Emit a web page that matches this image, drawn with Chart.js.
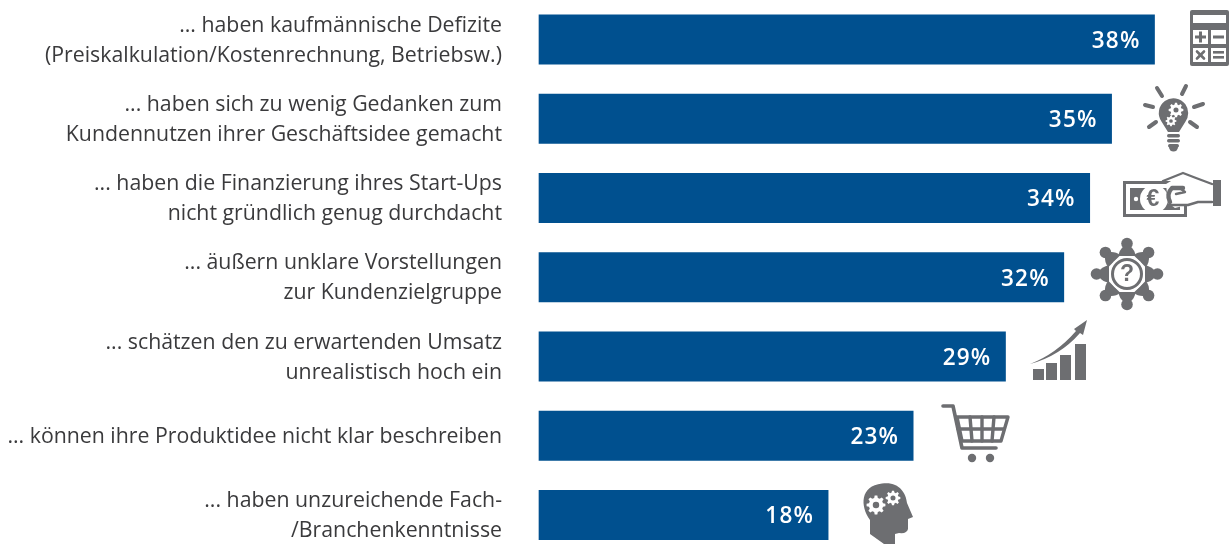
<!DOCTYPE html>
<html lang="de"><head><meta charset="utf-8">
<script src="https://cdn.jsdelivr.net/npm/chart.js@4"></script>
<style>html,body{margin:0;padding:0;background:#fff;overflow:hidden}#w{width:1230px;height:544px;position:relative}</style>
</head><body><div id="w"><canvas id="c" width="1230" height="544"></canvas></div>
<script>
const categories = [
  ["... haben kaufmännische Defizite","(Preiskalkulation/Kostenrechnung, Betriebsw.)"],
  ["... haben sich zu wenig Gedanken zum","Kundennutzen ihrer Geschäftsidee gemacht"],
  ["... haben die Finanzierung ihres Start-Ups","nicht gründlich genug durchdacht"],
  ["... äußern unklare Vorstellungen","zur Kundenzielgruppe"],
  ["... schätzen den zu erwartenden Umsatz","unrealistisch hoch ein"],
  "... können ihre Produktidee nicht klar beschreiben",
  ["... haben unzureichende Fach-","/Branchenkenntnisse"]
];
const values = [38, 35.35, 34, 32.4, 28.8, 23.1, 17.85];
const valueLabels = ["38%","35%","34%","32%","29%","23%","18%"];
const GREY = "#6d6e71";

function gear(ctx,cx,cy,r,teeth,fill,hole){
  ctx.fillStyle=fill;ctx.beginPath();
  for(let i=0;i<teeth*2;i++){
    const a0=(i-0.36)*Math.PI/teeth,a1=(i+0.36)*Math.PI/teeth,rr=i%2?r*0.76:r;
    ctx.lineTo(cx+rr*Math.cos(a0),cy+rr*Math.sin(a0));
    ctx.lineTo(cx+rr*Math.cos(a1),cy+rr*Math.sin(a1));
  }
  ctx.closePath();ctx.fill();
  ctx.fillStyle=hole;ctx.beginPath();ctx.arc(cx,cy,r*0.34,0,7);ctx.fill();
}
function rr(ctx,x,y,w,h,r){ctx.beginPath();ctx.roundRect(x,y,w,h,r);ctx.fill();}
function line(ctx,x1,y1,x2,y2,w){ctx.lineWidth=w;ctx.lineCap="round";ctx.beginPath();ctx.moveTo(x1,y1);ctx.lineTo(x2,y2);ctx.stroke();}

const icons = [
  function calc(ctx){
    ctx.fillStyle=GREY;rr(ctx,1190,10,39,56,2);
    ctx.fillStyle="#fff";
    ctx.fillRect(1193,15,33,8);
    ctx.fillRect(1193,30,15,14);ctx.fillRect(1211,30,15,14);
    ctx.fillRect(1193,48,15,14);ctx.fillRect(1211,48,15,14);
    ctx.fillStyle=GREY;
    ctx.fillRect(1195,35.5,11,3);ctx.fillRect(1199,31.5,3,11);
    ctx.fillRect(1213,35.5,11,3);
    ctx.fillRect(1213,51,11,2.6);ctx.fillRect(1213,56,11,2.6);
    ctx.strokeStyle=GREY;line(ctx,1197,51.5,1204,58.5,2.6);line(ctx,1204,51.5,1197,58.5,2.6);
  },
  function bulb(ctx){
    ctx.fillStyle=GREY;ctx.strokeStyle=GREY;
    [[1157,88,1162,96],[1186,86,1182,94],[1145,105,1153,107],[1203,104,1194,107],[1149,127,1156,122],[1197,127,1190,122]].forEach(r=>line(ctx,r[0],r[1],r[2],r[3],4));
    ctx.beginPath();ctx.arc(1173.5,113,14.7,Math.PI*0.8,Math.PI*0.2);
    ctx.lineTo(1179,132);ctx.lineTo(1168,132);ctx.closePath();ctx.fill();
    rr(ctx,1167,134,13,3.4,1.7);rr(ctx,1167,139,13,3.4,1.7);rr(ctx,1168,144,11,3.4,1.7);
    ctx.beginPath();ctx.arc(1173.5,147,4.5,0,Math.PI);ctx.fill();
    gear(ctx,1176,110,7.4,8,"#fff",GREY);gear(ctx,1171,121,5.4,8,"#fff",GREY);
  },
  function money(ctx){
    ctx.fillStyle=GREY;ctx.fillRect(1123,181,64,36);
    ctx.fillStyle="#fff";ctx.fillRect(1126,184,58,30);
    ctx.fillStyle=GREY;ctx.fillRect(1130,188,50,22);
    ctx.fillStyle="#fff";ctx.beginPath();ctx.arc(1154,199,14,0,7);ctx.fill();
    ctx.beginPath();ctx.arc(1136,199,2.2,0,7);ctx.fill();
    ctx.fillStyle=GREY;ctx.font="bold 23px 'Liberation Sans'";ctx.textAlign="center";ctx.textBaseline="middle";ctx.fillText("€",1153,200);
    ctx.fillStyle="#fff";ctx.beginPath();ctx.moveTo(1166,184);ctx.lineTo(1183,174);ctx.lineTo(1213,186);ctx.lineTo(1213,204);ctx.lineTo(1190,204);ctx.lineTo(1175,208);ctx.lineTo(1168,203);ctx.closePath();ctx.fill();
    ctx.fillStyle=GREY;ctx.fillRect(1213,180,8,26);
    ctx.strokeStyle=GREY;ctx.lineCap="round";ctx.lineJoin="round";ctx.lineWidth=2.4;
    ctx.beginPath();ctx.moveTo(1163,181);ctx.lineTo(1183,173);ctx.lineTo(1196,178);ctx.lineTo(1212,184);ctx.stroke();
    ctx.beginPath();ctx.moveTo(1212,202);ctx.lineTo(1198,202);ctx.lineTo(1188,205);ctx.lineTo(1170,205);ctx.stroke();
    ctx.lineWidth=4.4;
    ctx.beginPath();ctx.moveTo(1183,188);ctx.lineTo(1172,188);ctx.quadraticCurveTo(1166,194,1170,202);ctx.stroke();
    ctx.lineWidth=2.4;ctx.beginPath();ctx.moveTo(1181,189);ctx.lineTo(1185,192);ctx.lineTo(1176,194);ctx.stroke();
  },
  function people(ctx){
    const cx=1127,cy=274;ctx.fillStyle=GREY;ctx.strokeStyle=GREY;
    for(let i=0;i<8;i++){
      const a=i*Math.PI/4,c=Math.cos(a),s=Math.sin(a),px=-s,py=c;
      ctx.beginPath();ctx.arc(cx+30.5*c,cy+30.5*s,5.8,0,7);ctx.fill();
      ctx.beginPath();
      ctx.moveTo(cx+28*c+3*px,cy+28*s+3*py);
      ctx.lineTo(cx+28*c-3*px,cy+28*s-3*py);
      ctx.quadraticCurveTo(cx+24*c-8*px,cy+24*s-8*py,cx+18*c-8.5*px,cy+18*s-8.5*py);
      ctx.lineTo(cx+18*c+8.5*px,cy+18*s+8.5*py);
      ctx.quadraticCurveTo(cx+24*c+8*px,cy+24*s+8*py,cx+28*c+3*px,cy+28*s+3*py);
      ctx.closePath();ctx.fill();
    }
    ctx.fillStyle="#fff";ctx.beginPath();ctx.arc(cx,cy,18,0,7);ctx.fill();
    ctx.lineWidth=3;ctx.beginPath();ctx.arc(cx,cy,14.5,0,7);ctx.stroke();
    ctx.fillStyle=GREY;ctx.font="bold 23px 'Liberation Sans'";ctx.textAlign="center";ctx.textBaseline="middle";ctx.fillText("?",cx,cy+1);
  },
  function growth(ctx){
    ctx.fillStyle=GREY;
    ctx.fillRect(1033,369,11,11);ctx.fillRect(1046,363,11,17);ctx.fillRect(1060,355,11,25);ctx.fillRect(1075,344,11,36);
    ctx.beginPath();ctx.moveTo(1030,364);ctx.quadraticCurveTo(1056,354,1076,331);ctx.lineTo(1074,329);ctx.lineTo(1087,320);ctx.lineTo(1083,335);ctx.lineTo(1080,333);ctx.quadraticCurveTo(1060,356,1030,364);ctx.closePath();ctx.fill();
  },
  function cart(ctx){
    ctx.strokeStyle=GREY;ctx.fillStyle=GREY;ctx.lineCap="round";ctx.lineJoin="round";
    ctx.lineWidth=3.6;
    ctx.beginPath();ctx.moveTo(943,406);ctx.lineTo(953,406);ctx.lineTo(962,448);ctx.lineTo(996,448);ctx.stroke();
    ctx.lineWidth=3.4;ctx.beginPath();ctx.moveTo(957,417);ctx.lineTo(1008,417);ctx.lineTo(1001,441);ctx.lineTo(962,441);ctx.closePath();ctx.stroke();
    line(ctx,958,429,1004,429,3.4);
    line(ctx,970,417,972,441,3.4);line(ctx,982,417,982,441,3.4);line(ctx,994,417,992,441,3.4);
    ctx.beginPath();ctx.arc(972,458,4.2,0,7);ctx.fill();ctx.beginPath();ctx.arc(990,458,4.2,0,7);ctx.fill();
  },
  function head(ctx){
    ctx.fillStyle=GREY;ctx.beginPath();
    ctx.moveTo(870,534);ctx.lineTo(870,520);
    ctx.bezierCurveTo(860,506,860,486,882,483.5);
    ctx.bezierCurveTo(898,481,906,492,907,503);
    ctx.lineTo(913,517);ctx.lineTo(908,519);ctx.lineTo(908,529);
    ctx.quadraticCurveTo(907,534,899,533);ctx.lineTo(895,534);ctx.lineTo(895,544);
    ctx.lineTo(884,544);ctx.closePath();ctx.fill();
    gear(ctx,876,505,9.5,8,"#fff",GREY);gear(ctx,893,498,7.4,8,"#fff",GREY);
  }
];

const overlay = {
  id:"overlay",
  afterDatasetsDraw(chart){
    const ctx=chart.ctx,meta=chart.getDatasetMeta(0);
    ctx.save();
    ctx.font="600 22.5px 'Open Sans'";ctx.letterSpacing="1.2px";ctx.fillStyle="#fff";ctx.textAlign="right";ctx.textBaseline="middle";
    meta.data.forEach((b,i)=>ctx.fillText(valueLabels[i],b.x-14,b.y+2));
    ctx.restore();
    icons.forEach(f=>{ctx.save();f(ctx);ctx.restore();});
  }
};

new Chart(document.getElementById("c"),{
  type:"bar",
  data:{labels:categories,datasets:[{data:values,backgroundColor:"#00508f",borderWidth:0,barThickness:49.5,clip:false}]},
  plugins:[overlay],
  options:{
    indexAxis:"y",responsive:false,animation:false,
    layout:{padding:{top:39.5,bottom:29,left:0,right:0}},
    plugins:{legend:{display:false},tooltip:{enabled:false}},
    scales:{
      x:{min:0,max:42.66,display:false},
      y:{offset:false,border:{display:false},grid:{display:false,drawTicks:false},
        afterFit(s){s.width=539;s.paddingTop=0;s.paddingBottom=0;},
        ticks:{padding:37,labelOffset:1,color:"#3a3a3c",font:{family:"'Open Sans'",size:21.3,lineHeight:1.415},autoSkip:false,maxRotation:0,minRotation:0}}
    }
  }
});
</script></body></html>
